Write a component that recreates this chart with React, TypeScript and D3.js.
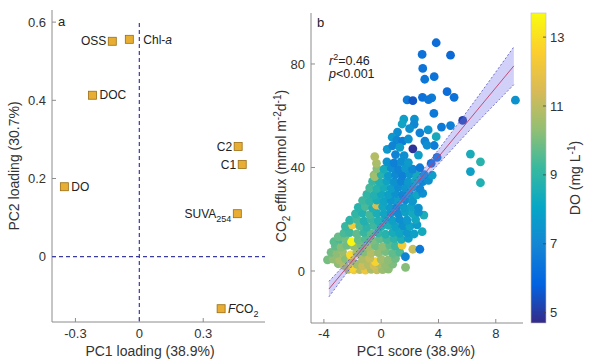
import React from 'react';
import * as d3 from 'd3';

// panel a: PCA loadings
const loadingNames = ['OSS', 'Chl-a', 'DOC', 'C2', 'C1', 'DO', 'SUVA254', 'FCO2'];
const pc1Loading = [-0.127, -0.047, -0.22, 0.464, 0.483, -0.352, 0.46, 0.384];
const pc2Loading = [0.551, 0.556, 0.413, 0.282, 0.236, 0.179, 0.11, -0.133];
const labelSide = ['left', 'right', 'right', 'left', 'left', 'right', 'left', 'right'];
const pcaXTicks = [-0.3, 0, 0.3];
const pcaYTicks = [0, 0.2, 0.4, 0.6];

// panel b: [PC1 score, CO2 efflux, DO]
const lowerCluster: [number, number, number][] = [
  [-2.3, 0.6, 10.9], [-1.9, 0.4, 12.3], [-1.5, 0.5, 11.0], [-1.1, 0.3, 12.1], [-0.7, 0.6, 10.7], [-0.3, 0.4, 11.2], [0.1, 0.5, 10.5], [0.5, 0.7, 10.3],
  [-3.0, 2.8, 10.3], [-2.6, 2.2, 10.9], [-2.0, 1.2, 12.6], [-1.7, 2.6, 10.6], [-1.3, 2.0, 11.3], [-0.9, 2.4, 10.9], [-0.5, 2.1, 11.4], [-0.1, 2.7, 10.8], [0.3, 2.3, 10.4], [0.8, 2.6, 10.1],
  [-3.75, 4.3, 10.0], [-3.35, 4.6, 10.4], [-2.9, 4.2, 10.7], [-2.5, 4.8, 10.2], [-2.1, 4.4, 11.1], [-0.4, 3.6, 12.6], [-1.3, 4.6, 10.8], [-0.8, 4.9, 11.2], [0.0, 4.5, 10.6], [0.5, 4.3, 10.3], [1.0, 4.8, 9.9], [1.7, 1.4, 10.2],
  [-3.5, 7.2, 9.9], [-3.1, 6.8, 10.3], [-2.7, 7.4, 10.5], [-2.14, 6.2, 12.8], [-1.7, 7.0, 10.7], [-1.2, 7.3, 10.2], [-0.7, 6.9, 10.9], [-0.2, 7.1, 10.4], [0.3, 7.5, 10.0], [0.8, 6.8, 9.7], [1.3, 7.2, 9.4], [1.69, 5.5, 6.9],
  [-3.2, 9.6, 9.7], [-2.8, 9.2, 10.2], [-2.4, 9.9, 9.9], [-1.9, 9.5, 10.4], [-1.4, 9.8, 10.0], [-0.9, 9.3, 10.6], [-0.4, 9.7, 9.9], [0.1, 9.4, 10.3], [0.6, 9.9, 9.6], [1.0, 9.6, 9.2], [1.46, 10.0, 12.3], [2.21, 8.4, 11.2], [2.7, 8.4, 6.5],
  [-3.3, 11.3, 9.6], [-2.9, 12.2, 9.4], [-2.5, 12.4, 10.0], [-2.07, 11.3, 13.6], [-1.6, 12.0, 9.8], [-1.1, 12.3, 9.5], [-0.6, 11.8, 10.1], [-0.1, 12.4, 9.7], [0.4, 12.1, 9.3], [0.9, 12.5, 8.9], [1.4, 12.2, 8.5], [1.9, 12.6, 7.8],
];

const middleCluster: [number, number, number][] = [
  [-3.0, 13.2, 9.8], [-2.6, 14.6, 9.4], [-2.2, 14.8, 9.2], [-1.7, 14.3, 9.7], [-1.2, 14.9, 9.1], [-0.7, 14.4, 9.6], [-0.2, 14.7, 9.0], [0.3, 14.2, 8.8], [0.8, 14.8, 8.4], [1.3, 14.5, 8.1], [1.8, 14.9, 7.6], [2.3, 14.3, 7.9], [2.86, 15.2, 8.3],
  [-2.5, 17.2, 9.1], [-2.0, 17.8, 12.3], [-1.5, 17.4, 9.4], [-1.0, 16.9, 8.9], [-0.5, 17.5, 9.2], [0.0, 17.1, 8.7], [0.5, 17.6, 8.5], [1.0, 17.0, 8.0], [1.5, 17.4, 7.4], [2.0, 17.2, 8.0], [2.5, 17.8, 7.7],
  [-2.2, 19.6, 8.9], [-1.7, 19.9, 9.3], [-1.2, 19.3, 8.7], [-0.7, 19.8, 9.1], [-0.2, 19.4, 8.6], [0.3, 19.9, 8.3], [0.8, 19.5, 7.9], [1.3, 19.8, 7.3], [1.8, 19.6, 7.6], [2.4, 19.9, 8.2], [2.98, 21.6, 8.5],
  [-1.8, 22.1, 9.0], [-1.3, 22.4, 8.7], [-0.8, 21.8, 9.3], [-0.3, 22.3, 8.5], [0.2, 22.0, 8.1], [0.7, 22.5, 7.6], [1.2, 22.1, 7.2], [1.7, 22.6, 7.9], [2.2, 22.2, 8.3], [2.6, 22.7, 7.5],
  [-1.6, 24.6, 8.8], [-1.1, 24.9, 9.4], [-0.6, 24.3, 8.6], [-0.33, 25.5, 11.5], [0.1, 24.8, 8.2], [0.6, 24.4, 7.7], [1.1, 24.9, 7.1], [1.6, 24.5, 7.8], [2.1, 24.8, 8.0], [2.6, 24.3, 7.4],
  [-1.3, 27.2, 9.2], [-0.8, 27.0, 8.9], [-0.3, 27.4, 8.4], [0.2, 26.9, 8.0], [0.7, 27.3, 7.5], [1.2, 27.1, 7.8], [1.7, 27.5, 7.2], [2.2, 27.0, 7.6],
  [-1.0, 29.6, 9.0], [-0.5, 29.3, 8.7], [0.0, 29.8, 8.2], [0.5, 29.4, 7.9], [1.0, 29.9, 7.4], [1.5, 29.5, 7.0], [2.0, 29.7, 7.7], [2.5, 29.4, 8.1], [2.9, 30.0, 7.3],
  [-0.8, 32.1, 9.3], [-0.3, 31.8, 8.8], [0.2, 32.3, 8.4], [0.7, 31.9, 7.8], [1.2, 32.4, 7.2], [1.7, 32.0, 7.5], [2.2, 32.3, 7.9], [2.7, 31.8, 7.1],
  [-0.6, 34.6, 9.1], [-0.1, 34.3, 8.6], [0.4, 34.8, 8.0], [0.9, 34.4, 7.4], [1.4, 34.7, 6.9], [1.9, 34.4, 7.6], [2.4, 34.8, 8.2], [2.9, 34.5, 7.0], [3.3, 35.0, 7.4],
  [-0.5, 37.1, 10.4], [-0.45, 36.5, 10.6], [0.0, 37.3, 8.8], [0.5, 36.8, 7.7], [1.0, 37.2, 7.1], [1.5, 36.9, 6.8], [2.0, 37.4, 7.5], [2.5, 36.9, 8.3], [3.0, 37.2, 7.2], [3.56, 37.0, 7.8],
  [-0.3, 39.6, 10.2], [0.2, 39.4, 8.4], [0.7, 39.8, 7.3], [1.2, 39.3, 6.9], [1.7, 39.7, 7.6], [2.2, 39.4, 7.0], [2.7, 39.9, 6.6],
  [-0.33, 41.6, 10.7], [0.4, 42.2, 7.4], [0.9, 41.8, 6.8], [1.4, 42.3, 7.2], [1.9, 41.9, 7.7], [3.49, 41.6, 6.3],
  [-0.45, 44.2, 10.9], [0.42, 47.0, 7.6], [1.0, 45.0, 6.9], [1.6, 44.6, 7.3], [2.21, 47.2, 4.9], [3.9, 43.9, 6.4], [2.6, 44.8, 7.8],
];

const upperPoints: [number, number, number][] = [
  [3.84, 88.2, 6.2], [2.86, 83.7, 6.3], [4.84, 83.4, 6.1], [2.9, 78.3, 6.4], [3.04, 74.1, 6.5], [3.7, 75.1, 6.4],
  [1.81, 66.1, 6.6], [2.21, 65.8, 5.6], [2.88, 67.1, 6.3], [3.53, 66.9, 6.7], [3.3, 66.2, 6.5], [4.6, 69.3, 6.2], [5.09, 67.1, 6.3], [9.37, 66.0, 7.4],
  [3.68, 60.9, 6.6], [5.69, 58.2, 5.2], [1.58, 58.7, 7.8], [2.32, 58.7, 7.4], [2.3, 56.7, 7.0], [4.21, 55.6, 6.6], [4.84, 56.2, 6.8], [1.46, 56.8, 8.0],
  [1.98, 55.0, 7.3], [2.7, 53.4, 6.8], [3.28, 54.5, 7.5], [1.14, 53.7, 7.2], [0.77, 51.7, 7.6], [1.1, 50.6, 7.0], [1.5, 50.2, 6.7], [1.9, 51.0, 7.4],
  [3.05, 50.2, 6.9], [3.84, 51.9, 8.3], [3.7, 48.5, 6.7], [3.2, 48.6, 7.2], [0.8, 48.4, 6.9], [1.3, 47.8, 7.8],
  [6.23, 45.2, 8.4], [6.93, 42.2, 8.8], [6.23, 38.4, 7.9], [6.93, 34.1, 8.6],
];

const scoreXTicks = [-4, 0, 4, 8];
const effluxYTicks = [0, 40, 80];
const doTicks = [5, 7, 9, 11, 13];

// regression fit and 95% band
const fitSlope = 6.68;
const fitIntercept = 17.4;
const fitRange = [-3.65, 9.26];
const ciX = [-3.65, -2, 0, 2, 4, 6, 9.26];
const ciLower = [-10.0, 2.2, 16.3, 29.2, 41.3, 53.3, 72.0];
const ciUpper = [-4.0, 5.8, 18.5, 32.4, 46.9, 61.7, 86.6];

const parula = ['#352a87', '#0363e1', '#1485d4', '#06a7c6', '#38b99e', '#92bf73', '#d9ba56', '#fcce2e', '#f9fb0e'];

const font = '"Liberation Sans", Arial, Helvetica, sans-serif';
const axisColor = '#8c8c8c';
const textColor = '#222';

function LoadingLabel({ name }: { name: string }) {
  if (name === 'Chl-a') return <>Chl-<tspan fontStyle="italic">a</tspan></>;
  if (name === 'SUVA254') return <>SUVA<tspan fontSize={9} dy={4}>254</tspan></>;
  if (name === 'FCO2') return <><tspan fontStyle="italic">F</tspan>CO<tspan fontSize={9} dy={4}>2</tspan></>;
  return <>{name}</>;
}

export default function App() {
  // panel a
  const xA = d3.scaleLinear().domain([-0.41, 0.59]).range([52, 265]);
  const yA = d3.scaleLinear().domain([-0.167, 0.631]).range([322, 10]);

  // panel b
  const xB = d3.scaleLinear().domain([-4.9, 9.9]).range([311, 523]);
  const yB = d3.scaleLinear().domain([-20.1, 99.7]).range([323, 13]);
  const cB = d3.scaleLinear().domain([4.7, 13.7]).range([323, 13]);
  const colorOf = d3.scaleSequential(d3.interpolateRgbBasis(parula)).domain([4.7, 13.7]);

  const points = [...lowerCluster, ...middleCluster, ...upperPoints];

  const band = d3.area<number>()
    .x((_, i) => xB(ciX[i]))
    .y0((_, i) => yB(ciLower[i]))
    .y1((_, i) => yB(ciUpper[i]))
    .curve(d3.curveMonotoneX)(ciX);
  const lowerLine = d3.line<number>().x((_, i) => xB(ciX[i])).y(d => yB(d)).curve(d3.curveMonotoneX)(ciLower);
  const upperLine = d3.line<number>().x((_, i) => xB(ciX[i])).y(d => yB(d)).curve(d3.curveMonotoneX)(ciUpper);

  return (
    <svg width={600} height={364} style={{ position: 'absolute', left: 0, top: 0, background: '#fff' }} fontFamily={font}>
      <defs>
        <linearGradient id="parula" x1="0" y1="1" x2="0" y2="0">
          {parula.map((c, i) => (
            <stop key={i} offset={`${(i / (parula.length - 1)) * 100}%`} stopColor={c} />
          ))}
        </linearGradient>
      </defs>

      {/* ---------- panel a ---------- */}
      <g>
        <line x1={52} x2={52} y1={10} y2={322} stroke={axisColor} />
        <line x1={52} x2={265} y1={322} y2={322} stroke={axisColor} />
        {pcaYTicks.map(t => (
          <g key={t}>
            <line x1={52} x2={56} y1={yA(t)} y2={yA(t)} stroke={axisColor} />
            <text x={46} y={yA(t)} dy="0.35em" textAnchor="end" fontSize={13} fill="#333">{t === 0 ? '0' : t.toFixed(1)}</text>
          </g>
        ))}
        {pcaXTicks.map(t => (
          <g key={t}>
            <line x1={xA(t)} x2={xA(t)} y1={322} y2={318} stroke={axisColor} />
            <text x={xA(t)} y={338} textAnchor="middle" fontSize={13} fill="#333">{t === 0 ? '0' : t.toFixed(1)}</text>
          </g>
        ))}
        <line x1={xA(0)} x2={xA(0)} y1={23} y2={322} stroke="#3c3ca0" strokeWidth={1.2} strokeDasharray="4,3" />
        <line x1={52} x2={265} y1={yA(0)} y2={yA(0)} stroke="#3c3ca0" strokeWidth={1.2} strokeDasharray="4,3" />
        {loadingNames.map((n, i) => {
          const px = xA(pc1Loading[i]);
          const py = yA(pc2Loading[i]);
          const left = labelSide[i] === 'left';
          const lx = n === 'Chl-a' ? px + 14 : left ? px - 6 : px + 7;
          return (
            <g key={n}>
              <rect x={px - 4} y={py - 4} width={8} height={8} fill="#e8ae34" stroke="#9a6d12" strokeWidth={0.8} />
              <text x={lx} y={py} dy="0.35em" textAnchor={left ? 'end' : 'start'} fontSize={12} fill={textColor}>
                <LoadingLabel name={n} />
              </text>
            </g>
          );
        })}
        <text x={58} y={26} fontSize={13} fill={textColor}>a</text>
        <text transform={`translate(19,166) rotate(-90)`} textAnchor="middle" fontSize={14} fill="#333">PC2 loading (30.7%)</text>
        <text x={150} y={356} textAnchor="middle" fontSize={14} fill="#333">PC1 loading (38.9%)</text>
      </g>

      {/* ---------- panel b ---------- */}
      <g>
        {points.map(([x, y, v], i) => (
          <circle key={i} cx={xB(x)} cy={yB(y)} r={4.4} fill={colorOf(v)} />
        ))}
        <path d={band ?? ''} fill="rgba(120,120,235,0.35)" />
        <path d={lowerLine ?? ''} fill="none" stroke="#5555c0" strokeWidth={0.8} strokeDasharray="2,2" />
        <path d={upperLine ?? ''} fill="none" stroke="#5555c0" strokeWidth={0.8} strokeDasharray="2,2" />
        <line
          x1={xB(fitRange[0])} y1={yB(fitIntercept + fitSlope * fitRange[0])}
          x2={xB(fitRange[1])} y2={yB(fitIntercept + fitSlope * fitRange[1])}
          stroke="#c0406a" strokeWidth={0.9}
        />
        <line x1={311} x2={311} y1={13} y2={323} stroke={axisColor} />
        <line x1={311} x2={523} y1={323} y2={323} stroke={axisColor} />
        {effluxYTicks.map(t => (
          <g key={t}>
            <line x1={311} x2={315} y1={yB(t)} y2={yB(t)} stroke={axisColor} />
            <text x={305} y={yB(t)} dy="0.35em" textAnchor="end" fontSize={13} fill="#333">{t}</text>
          </g>
        ))}
        {scoreXTicks.map(t => (
          <g key={t}>
            <line x1={xB(t)} x2={xB(t)} y1={323} y2={319} stroke={axisColor} />
            <text x={xB(t)} y={338} textAnchor="middle" fontSize={13} fill="#333">{t}</text>
          </g>
        ))}
        <text x={317} y={27} fontSize={13} fill={textColor}>b</text>
        <text x={329} y={65} fontSize={12.5} fill={textColor}>
          <tspan fontStyle="italic">r</tspan><tspan fontSize={9} dy={-5}>2</tspan><tspan dy={5}>=0.46</tspan>
        </text>
        <text x={329} y={78} fontSize={12.5} fill={textColor}>
          <tspan fontStyle="italic">p</tspan>&lt;0.001
        </text>
        <text transform="translate(286,166) rotate(-90)" textAnchor="middle" fontSize={14} fill="#333">
          CO<tspan fontSize={10} dy={4}>2</tspan><tspan dy={-4}> efflux (mmol m</tspan><tspan fontSize={10} dy={-5}>-2</tspan><tspan dy={5}>d</tspan><tspan fontSize={10} dy={-5}>-1</tspan><tspan dy={5}>)</tspan>
        </text>
        <text x={416} y={356} textAnchor="middle" fontSize={14} fill="#333">PC1 score (38.9%)</text>
      </g>

      {/* ---------- colorbar ---------- */}
      <g>
        <rect x={531} y={13} width={15} height={310} fill="url(#parula)" />
        <rect x={531} y={13} width={15} height={310} fill="none" stroke="#bbb" strokeWidth={0.6} />
        {doTicks.map(t => (
          <g key={t}>
            <line x1={543} x2={546} y1={cB(t)} y2={cB(t)} stroke="#444" strokeWidth={0.8} />
            <text x={550} y={cB(t)} dy="0.35em" fontSize={13} fill="#333">{t}</text>
          </g>
        ))}
        <text transform="translate(580,178) rotate(-90)" textAnchor="middle" fontSize={14} fill="#333">
          DO (mg L<tspan fontSize={10} dy={-5}>-1</tspan><tspan dy={5}>)</tspan>
        </text>
      </g>
    </svg>
  );
}
